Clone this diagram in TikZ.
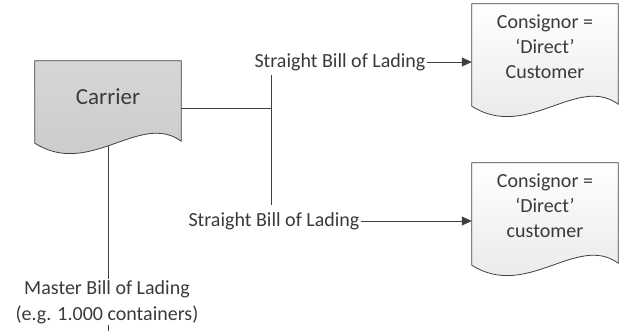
\documentclass[tikz,border=0pt]{standalone}
\usepackage{fontspec}
\setmainfont{Carlito}
\usetikzlibrary{arrows.meta,calc,positioning}

\definecolor{inkgray}{HTML}{404040}
\definecolor{txtgray}{HTML}{3A3A3A}
\definecolor{carriertop}{HTML}{D6D6D6}
\definecolor{carrierbot}{HTML}{CACACA}
\definecolor{papertop}{HTML}{FFFFFF}
\definecolor{paperbot}{HTML}{E6E6E6}

\pgfdeclarelayer{wires}
\pgfdeclarelayer{shapes}
\pgfsetlayers{wires,shapes,main}

\tikzstyle{docnode}=[minimum width=146pt,inner sep=0pt,align=center,text=txtgray,font=\fontsize{20}{25}\selectfont]
\tikzstyle{docline}=[draw=inkgray,line width=0.8pt]
\tikzstyle{lbl}=[inner sep=1pt,align=center,text=txtgray,font=\fontsize{20}{26}\selectfont]
\tikzstyle{flow}=[draw=inkgray,line width=0.8pt]
\tikzstyle{arr}=[flow,-{Triangle[length=10pt,width=9pt]}]

% document outline below a node: #1 node, #2 depth of wave, #3 fill
\newcommand{\docoutline}[3]{%
  \path[docline,#3] (#1.north west) -- (#1.north east) -- ($(#1.south east)+(0,#2-2)$)
    .. controls ($(#1.south east)+(-41,#2-32)$) and ($(#1.south west)+(55,#2+35)$)
    .. ($(#1.south west)+(0,#2)$) -- cycle;}

\begin{document}
\begin{tikzpicture}[x=1pt,y=-1pt]
	\useasboundingbox (0,0) rectangle (625,331);
	
	\node[docnode,minimum height=72pt,font=\fontsize{23}{28}\selectfont] (carrier) at (108,97) {Carrier};
	\node[docnode,minimum height=85pt] (direct1) at (545,46.5) {Consignor =\\`Direct'\\Customer};
	\node[docnode,minimum height=85pt] (direct2) at (545,205.5) {Consignor =\\`Direct'\\customer};
	
	\node[lbl] (sbl1) at (340,62) {Straight Bill of Lading};
	\node[lbl] (sbl2) at (274,221) {Straight Bill of Lading};
	\node[lbl] (mbl) at (107,302) {Master Bill of Lading\\(e.g. 1.000 containers)};
	
	\coordinate (split) at (271,108);
	\coordinate (bustop) at (271,75);
	\coordinate (busbot) at (271,205);
	\coordinate (mout) at (108,331);
	
	\begin{pgfonlayer}{wires}
		\draw[flow] (carrier.east |- split) -- (split);
		\draw[flow] (bustop) -- (busbot);
		\draw[arr] (sbl1.east) -- (sbl1.east -| direct1.west);
		\draw[arr] (sbl2.east) -- (sbl2.east -| direct2.west);
		\draw[flow] (carrier.south) -- (carrier.south |- mbl.north);
		\draw[flow] (mbl.south -| carrier.south) -- (mout);
	\end{pgfonlayer}
	
	\begin{pgfonlayer}{shapes}
		\docoutline{carrier}{10}{top color=carriertop,bottom color=carrierbot}
		\docoutline{direct1}{17}{top color=papertop,bottom color=paperbot}
		\docoutline{direct2}{17}{top color=papertop,bottom color=paperbot}
	\end{pgfonlayer}
\end{tikzpicture}
\end{document}
